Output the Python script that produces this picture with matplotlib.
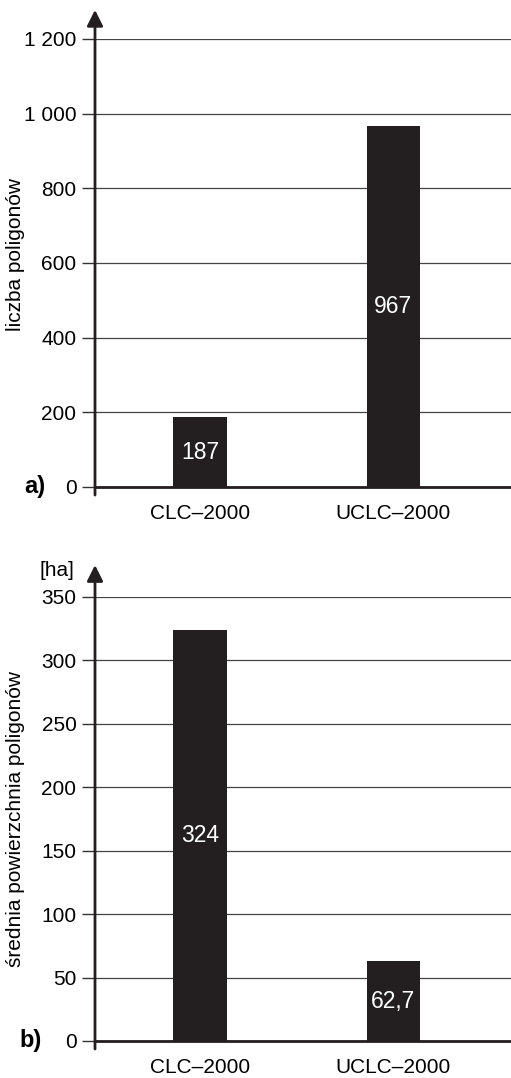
import matplotlib.pyplot as plt

plt.rcParams['font.family'] = ['Liberation Sans', 'DejaVu Sans']

categories = ["CLC–2000", "UCLC–2000"]
counts = [187, 967]
mean_area = [324, 62.7]
count_labels = ["187", "967"]
area_labels = ["324", "62,7"]
count_ticks = [0, 200, 400, 600, 800, 1000, 1200]
count_tick_labels = ["0", "200", "400", "600", "800", "1 000", "1 200"]
area_ticks = [0, 50, 100, 150, 200, 250, 300, 350]

bar_color = "#231f20"
W, H = 511, 1078

fig = plt.figure(figsize=(W / 100, H / 100), dpi=100)


def make_panel(rect, values, labels, ticks, tick_labels, ylim, ylabel,
               label_y, panel_tag, arrow_top, tag_x):
    ax = fig.add_axes(rect)
    x = list(range(len(categories)))
    ax.bar(x, values, width=0.275, color=bar_color, zorder=3)
    for xi, v, lab in zip(x, values, labels):
        ax.text(xi, v / 2, lab, ha="center", va="center", color="white",
                fontsize=16.5, zorder=4)
    ax.set_xlim(-0.544, 1.611)
    ax.set_ylim(*ylim)
    ax.set_xticks(x)
    ax.set_xticklabels(categories, fontsize=15)
    ax.tick_params(axis="x", length=0, pad=12.5)
    ax.set_yticks(ticks)
    ax.set_yticklabels(tick_labels, fontsize=15)
    ax.tick_params(axis="y", length=9.4, width=1, color="#333333", pad=4)
    ax.grid(axis="y", color="#444444", linewidth=0.9, zorder=1)
    for side in ["top", "right", "left"]:
        ax.spines[side].set_visible(False)
    ax.spines["bottom"].set_linewidth(2)
    ax.spines["bottom"].set_color(bar_color)
    ax.text(-0.19, label_y, ylabel, transform=ax.transAxes, rotation=90,
            ha="center", va="center", fontsize=15)
    # vertical axis with arrow head
    ax.annotate("", xy=(0, arrow_top), xytext=(0, -0.018),
                xycoords="axes fraction", textcoords="axes fraction",
                arrowprops=dict(arrowstyle="-|>", lw=2, color=bar_color,
                                mutation_scale=24, shrinkA=0, shrinkB=0),
                annotation_clip=False)
    ax.text(tag_x, 0, panel_tag, transform=ax.get_yaxis_transform(),
            ha="center", va="center", fontsize=17, fontweight="bold")
    return ax


ax1 = make_panel([95 / W, 1 - 487 / H, 416 / W, 448 / H], counts,
                 count_labels, count_ticks, count_tick_labels, (0, 1200),
                 "liczba poligonów", 0.52, "a)", 1.065, -0.144)

ax2 = make_panel([95 / W, 1 - 1041 / H, 416 / W, 444 / H], mean_area,
                 area_labels, area_ticks, [str(t) for t in area_ticks],
                 (0, 350), "średnia powierzchnia poligonów", 0.5, "b)",
                 1.072, -0.156)
ax2.text(-0.05, 1.06, "[ha]", transform=ax2.transAxes, ha="right",
         va="center", fontsize=15)

fig.savefig("out.png", dpi=100)
